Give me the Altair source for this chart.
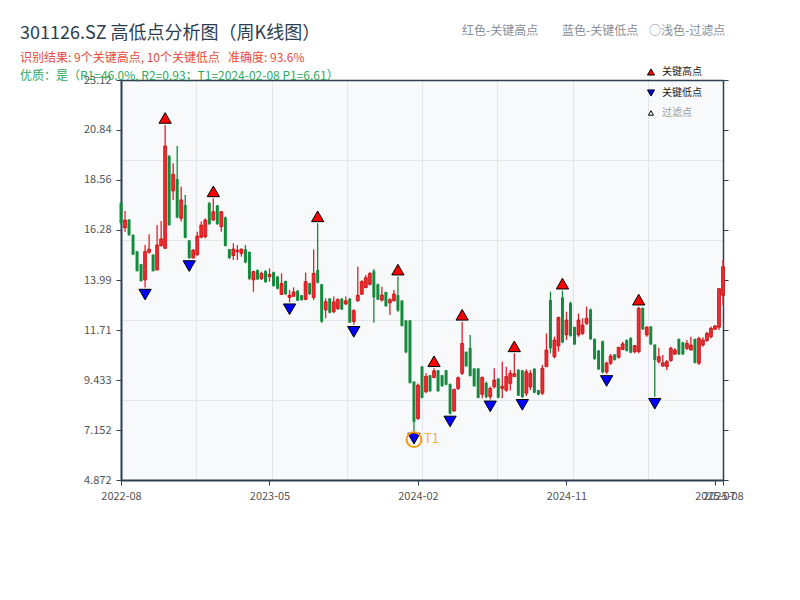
import altair as alt
import pandas as pd

# ---------------- data ----------------
all_weeks = pd.date_range("2022-08-26", "2025-08-08", freq="W-FRI")
holiday_weeks = ["2022-10-07", "2023-01-27", "2023-10-06", "2024-02-16"]
dates = [d.strftime("%Y-%m-%d") for d in all_weeks if d.strftime("%Y-%m-%d") not in holiday_weeks]
dates[dates.index("2024-02-09")] = "2024-02-08"

open_ = [
    17.50, 16.38, 16.75, 16.05, 15.30, 14.72, 14.00, 15.26, 15.15, 14.45,
    15.56, 15.44, 19.65, 18.06, 18.60, 16.81, 17.42, 15.80, 15.00, 15.15,
    15.95, 15.97, 17.50, 16.73, 17.40, 16.43, 16.85, 15.40, 15.11, 15.29,
    15.21, 15.40, 15.28, 14.00, 14.45, 14.05, 14.40, 14.15, 14.35, 14.15,
    13.34, 13.95, 13.20, 13.25, 13.50, 13.30, 13.11, 13.85, 13.20, 14.45,
    13.80, 12.63, 13.15, 12.55, 12.70, 13.15, 12.90, 13.15, 12.10, 13.05,
    13.35, 13.65, 13.80, 14.40, 13.80, 13.08, 13.45, 12.95, 13.05, 13.30,
    13.05, 12.15, 12.15, 9.36, 7.68, 10.05, 8.90, 9.65, 9.55, 9.88,
    9.65, 9.88, 9.25, 8.02, 9.05, 9.74, 10.72, 10.90, 9.96, 9.96,
    8.78, 9.30, 8.67, 9.13, 9.50, 9.05, 8.97, 9.28, 9.59, 9.90,
    9.87, 8.83, 9.12, 9.95, 8.97, 8.83, 10.04, 13.08, 10.50, 10.99,
    13.20, 11.49, 12.95, 11.85, 11.49, 11.56, 12.02, 12.65, 11.30, 10.78,
    11.20, 9.80, 10.20, 10.60, 10.47, 10.83, 11.25, 11.35, 10.72, 10.73,
    12.72, 11.49, 11.88, 11.05, 10.27, 10.07, 10.04, 10.32, 10.62, 11.30,
    11.15, 10.88, 10.80, 11.30, 10.20, 11.03, 11.23, 11.41, 11.75, 11.84,
    13.30]
high = [
    17.55, 17.14, 16.78, 16.08, 15.32, 14.74, 15.59, 16.08, 15.17, 16.51,
    16.69, 21.07, 19.70, 19.32, 20.11, 18.25, 17.87, 15.82, 15.41, 16.20,
    16.66, 16.81, 17.55, 17.72, 17.42, 17.14, 16.89, 15.41, 15.67, 15.59,
    15.44, 15.59, 15.29, 14.42, 14.48, 14.38, 14.45, 14.53, 14.38, 14.18,
    14.30, 13.97, 13.54, 13.66, 13.54, 13.31, 14.33, 13.87, 15.39, 16.58,
    13.81, 13.16, 13.16, 13.24, 13.16, 13.16, 13.24, 13.16, 12.66, 14.60,
    13.99, 14.22, 14.35, 14.50, 13.84, 13.69, 13.46, 13.16, 13.54, 14.15,
    13.08, 12.17, 12.17, 9.36, 9.28, 10.07, 9.74, 9.66, 9.97, 9.89,
    9.66, 9.89, 9.28, 9.05, 9.59, 12.09, 10.73, 11.49, 9.97, 9.97,
    9.59, 9.36, 9.13, 9.97, 9.51, 10.27, 10.04, 9.89, 10.65, 9.92,
    9.89, 9.92, 9.89, 9.97, 8.98, 10.12, 11.56, 13.46, 11.41, 12.32,
    13.51, 12.55, 13.01, 11.87, 12.47, 12.25, 12.78, 12.70, 11.33, 10.80,
    11.23, 10.27, 10.62, 10.62, 10.95, 11.18, 11.29, 11.38, 11.03, 12.78,
    12.75, 11.90, 11.90, 11.06, 10.91, 10.58, 10.35, 10.95, 10.88, 11.33,
    11.18, 11.26, 11.41, 11.33, 11.41, 11.38, 11.64, 11.87, 11.94, 13.62,
    14.91]
low = [
    16.50, 16.20, 16.00, 15.14, 14.38, 13.92, 13.65, 15.21, 14.38, 14.45,
    15.52, 15.44, 16.47, 17.64, 16.81, 16.66, 15.90, 14.95, 14.98, 15.10,
    15.90, 15.90, 16.50, 16.70, 16.51, 16.20, 15.52, 14.95, 14.91, 14.91,
    15.06, 14.76, 13.99, 13.46, 14.00, 14.00, 13.87, 13.92, 13.69, 13.57,
    13.31, 13.31, 12.98, 13.24, 13.05, 13.05, 13.08, 13.31, 13.08, 13.85,
    12.05, 12.25, 12.48, 12.48, 12.63, 12.63, 12.86, 12.05, 11.95, 13.00,
    13.31, 13.62, 13.74, 12.05, 13.08, 13.01, 12.78, 12.40, 13.01, 12.55,
    11.87, 10.65, 9.28, 7.08, 7.61, 8.60, 8.83, 8.90, 9.51, 8.90,
    9.13, 9.20, 7.86, 7.99, 8.98, 9.66, 10.04, 9.59, 9.13, 8.60,
    8.60, 8.60, 8.55, 9.05, 8.60, 8.60, 8.90, 8.95, 9.59, 8.70,
    8.62, 8.70, 8.98, 8.83, 8.75, 8.75, 10.04, 10.65, 10.42, 10.73,
    11.11, 11.26, 11.41, 11.03, 11.41, 11.49, 11.94, 11.26, 10.35, 9.89,
    9.74, 9.71, 10.12, 10.32, 10.42, 10.80, 10.73, 10.65, 10.65, 10.65,
    11.72, 11.41, 11.03, 8.67, 10.19, 10.04, 9.89, 10.27, 10.57, 10.57,
    10.57, 10.80, 10.80, 10.19, 10.12, 10.95, 11.18, 11.33, 11.72, 11.72,
    12.86]
close = [
    16.60, 16.73, 16.05, 15.15, 14.40, 13.95, 15.29, 15.40, 14.40, 15.59,
    15.87, 20.11, 16.50, 18.82, 16.85, 17.65, 15.92, 15.00, 15.35, 16.00,
    16.50, 16.73, 16.55, 17.11, 16.55, 17.11, 15.55, 15.00, 15.41, 15.35,
    15.40, 14.80, 14.05, 14.38, 14.02, 14.30, 13.90, 14.25, 13.72, 13.60,
    13.84, 13.35, 13.30, 13.45, 13.05, 13.08, 13.92, 13.35, 14.30, 13.87,
    12.10, 13.01, 12.50, 13.00, 13.10, 12.65, 13.05, 12.05, 12.60, 13.30,
    13.92, 14.10, 14.30, 13.20, 13.10, 13.31, 12.80, 13.10, 13.35, 12.60,
    11.90, 10.70, 9.30, 7.53, 9.20, 8.62, 9.60, 8.92, 9.85, 8.92,
    9.15, 9.22, 7.90, 9.00, 9.54, 11.10, 10.06, 9.62, 9.15, 8.62,
    9.55, 8.65, 9.05, 9.43, 8.63, 9.15, 9.59, 9.74, 9.72, 8.72,
    8.65, 9.81, 9.73, 8.86, 8.77, 9.97, 10.80, 10.88, 11.26, 12.29,
    11.15, 12.17, 11.45, 11.06, 12.17, 11.94, 12.25, 11.30, 10.40, 9.92,
    9.78, 10.20, 10.53, 10.35, 10.92, 11.08, 10.76, 10.68, 11.00, 12.70,
    11.75, 11.84, 11.06, 10.35, 10.50, 10.22, 10.27, 10.88, 10.80, 10.60,
    10.60, 11.10, 11.03, 10.22, 11.33, 11.26, 11.56, 11.79, 11.90, 13.60,
    14.60]

key_high_idx = [11, 23, 49, 69, 78, 85, 98, 110, 129]
key_low_idx = [6, 17, 42, 58, 73, 82, 92, 100, 121, 133]
t1_date = "2024-02-08"

x_tick_idx = [0, 37, 74, 111, 148, 150]
y_ticks = [4.872, 7.152, 9.433, 11.71, 13.99, 16.28, 18.56, 20.84, 23.12]
y_grid = [8.5216, 12.1712, 15.8208, 19.4704]
x_grid = [18.75, 37.5, 56.25, 75, 93.75, 112.5, 131.25]

title_text = "301126.SZ 高低点分析图（周K线图）"
sub_red = "识别结果: 9个关键高点, 10个关键低点\u00a0\u00a0\u00a0准确度: 93.6%"
sub_green = "优质：是（R1=46.0%, R2=0.93；T1=2024-02-08 P1=6.61）"
top_notes = ["红色-关键高点", "蓝色-关键低点", "○浅色-过滤点"]

# ---------------- frames ----------------
df = pd.DataFrame({"idx": list(range(len(dates))), "date": dates,
                   "open": open_, "high": high, "low": low, "close": close})
hi_df = pd.DataFrame({"idx": key_high_idx, "price": [high[i] for i in key_high_idx], "type": "关键高点"})
lo_df = pd.DataFrame({"idx": key_low_idx, "price": [low[i] for i in key_low_idx], "type": "关键低点"})
t1_i = dates.index(t1_date)
t1_df = pd.DataFrame({"idx": [t1_i], "price": [low[t1_i]], "label": ["T1"]})

FONT = "Noto Sans CJK SC"
DARK = "#2c3e50"
GRID = "#e2e5ea"
RED = "#e0202a"
GREEN = "#138a3c"

xscale = alt.Scale(domain=[0, 150], nice=False, zero=False, padding=0)
yscale = alt.Scale(domain=[4.872, 23.12], nice=False, zero=False, padding=0)

label_expr = " : ".join(
    f"datum.value == {i} ? '{dates[i][:7]}'" for i in x_tick_idx) + " : ''"

ax_bottom = alt.Axis(orient="bottom", values=x_tick_idx, labelExpr=label_expr, grid=False,
                     title=None, labelOverlap=False, labelFlush=False, labelFontSize=11,
                     labelColor="#555", tickColor=DARK, domainColor=DARK, domainWidth=2,
                     tickSize=5, labelPadding=5)
ax_left = alt.Axis(orient="left", values=y_ticks, format=".4", grid=False, title=None,
                   labelFontSize=11, labelColor="#555", tickColor=DARK, domainColor=DARK,
                   domainWidth=2, tickSize=5, labelPadding=5)
ax_top = alt.Axis(orient="top", values=x_grid, grid=True, gridColor=GRID, labels=False,
                  ticks=False, domainColor=DARK, domainWidth=1.5, title=None)
ax_right = alt.Axis(orient="right", values=y_ticks, grid=False, labels=False, ticks=True,
                    tickColor=DARK, tickSize=5, domainColor=DARK, domainWidth=1.5, title=None)
ax_ygrid = alt.Axis(orient="left", values=y_grid, grid=True, gridColor=GRID, labels=False,
                    ticks=False, domain=False, title=None)

base = alt.Chart(df)
up = "datum.close >= datum.open"
down = "datum.close < datum.open"

wick_up = base.transform_filter(up).mark_rule(color=RED, strokeWidth=1.3).encode(
    x=alt.X("idx:Q", scale=xscale, axis=ax_bottom),
    y=alt.Y("low:Q", scale=yscale, axis=ax_left), y2="high:Q")
body_up = base.transform_filter(up).mark_bar(size=3, color="#ee2a30", stroke="#c00000",
                                             strokeWidth=0.7).encode(
    x=alt.X("idx:Q", scale=xscale, axis=ax_top),
    y=alt.Y("open:Q", scale=yscale, axis=ax_right), y2="close:Q")
wick_dn = base.transform_filter(down).mark_rule(color=GREEN, strokeWidth=1.3).encode(
    x=alt.X("idx:Q", scale=xscale, axis=None),
    y=alt.Y("low:Q", scale=yscale, axis=ax_ygrid), y2="high:Q")
body_dn = base.transform_filter(down).mark_bar(size=3, color=GREEN).encode(
    x=alt.X("idx:Q", scale=xscale, axis=None),
    y=alt.Y("open:Q", scale=yscale, axis=None), y2="close:Q")

types = ["关键高点", "关键低点", "过滤点"]
legend = alt.Legend(
    title=None, orient="none", legendX=525, legendY=-13, padding=0,
    labelFontSize=10, labelOffset=6, rowPadding=9,
    labelColor={"expr": "datum.value === '过滤点' ? '#999999' : '#222222'"},
    symbolStrokeWidth=1,
    symbolSize={"expr": "datum.value === '过滤点' ? 26 : 50"})
fill_enc = alt.Fill("type:N", scale=alt.Scale(domain=types, range=["#ff0000", "#0000ff", "#ffffff"]),
                    legend=legend)
shape_enc = alt.Shape("type:N", scale=alt.Scale(domain=types,
                                                range=["triangle-up", "triangle-down", "triangle-up"]),
                      legend=legend)
stroke_enc = alt.Stroke("type:N", scale=alt.Scale(domain=types, range=["#000000", "#000000", "#000000"]),
                        legend=legend)

hi_marks = alt.Chart(hi_df).mark_point(filled=True, size=150, strokeWidth=1,
                                       opacity=1, yOffset=-7).encode(
    x=alt.X("idx:Q", scale=xscale, axis=None),
    y=alt.Y("price:Q", scale=yscale, axis=None), fill=fill_enc, shape=shape_enc, stroke=stroke_enc)
lo_marks = alt.Chart(lo_df).mark_point(filled=True, size=150, strokeWidth=1,
                                       opacity=1, yOffset=7).encode(
    x=alt.X("idx:Q", scale=xscale, axis=None),
    y=alt.Y("price:Q", scale=yscale, axis=None), fill=fill_enc, shape=shape_enc, stroke=stroke_enc)

t1_circle = alt.Chart(t1_df).mark_point(shape="circle", size=220, filled=False, color="#f39c12",
                                        strokeWidth=2, opacity=1, yOffset=8).encode(
    x=alt.X("idx:Q", scale=xscale, axis=None), y=alt.Y("price:Q", scale=yscale, axis=None))
t1_text = alt.Chart(t1_df).mark_text(align="left", baseline="middle", dx=10, dy=7,
                                     color="#f5b041", fontSize=13).encode(
    x=alt.X("idx:Q", scale=xscale, axis=None), y=alt.Y("price:Q", scale=yscale, axis=None),
    text="label:N")


def text_layer(txt, xp, yp, color, size):
    return alt.Chart(pd.DataFrame({"t": [txt]})).mark_text(
        align="left", baseline="alphabetic", color=color, fontSize=size).encode(
        text="t:N", x=alt.value(xp), y=alt.value(yp))


title_layer = text_layer(title_text, -101, -41, DARK, 18)
red_layer = text_layer(sub_red, -101, -18.5, "#e74c3c", 12)
green_layer = text_layer(sub_green, -101, -0.5, "#2eaa5c", 12)
note_layers = [text_layer(t, xp, -45.5, "#8a8f96", 12)
               for t, xp in zip(top_notes, [341, 441, 528])]

chart = alt.layer(
    wick_up, body_up, wick_dn, body_dn, hi_marks, lo_marks, t1_circle, t1_text,
    title_layer, red_layer, green_layer, *note_layers
).resolve_axis(x="independent", y="independent").properties(
    width=602, height=400,
    autosize=alt.AutoSizeParams(type="none"),
    padding={"left": 113, "top": 72, "right": 60, "bottom": 100},
).configure(font=FONT).configure_view(fill="#f8f9fb", stroke=None)

chart.save("out.html", embed_options={"renderer": "svg", "actions": False})
